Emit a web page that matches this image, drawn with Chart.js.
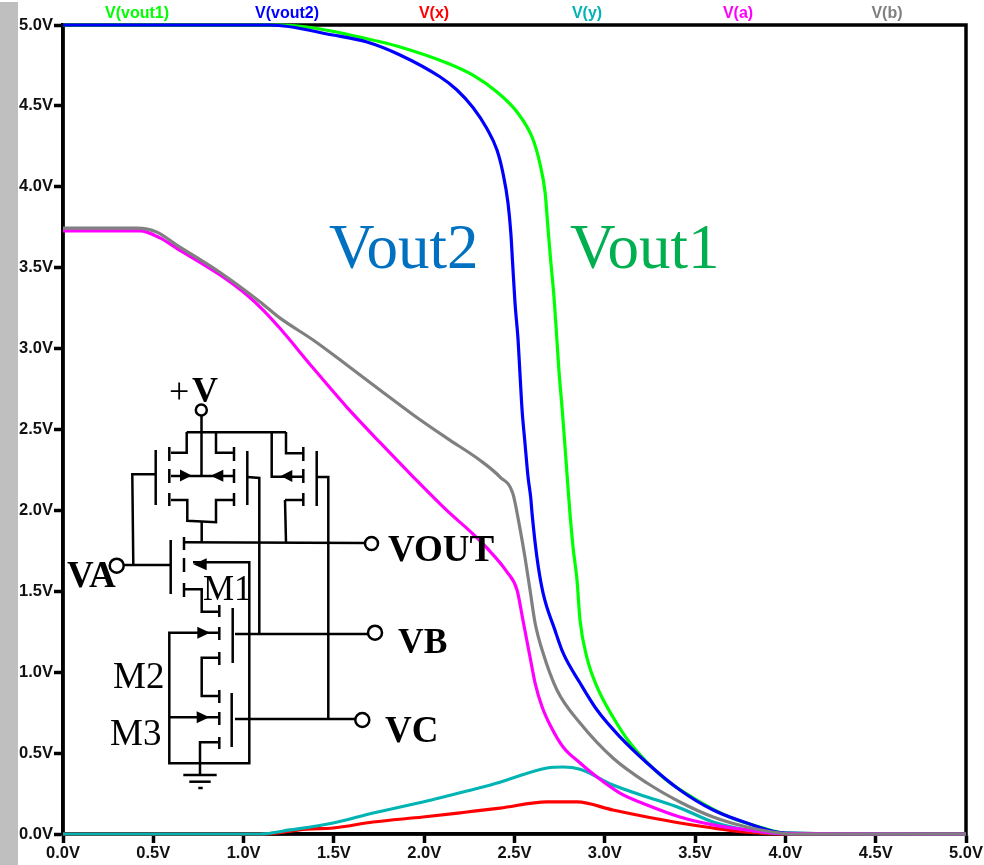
<!DOCTYPE html>
<html>
<head>
<meta charset="utf-8">
<title>DC sweep</title>
<script src="https://cdn.jsdelivr.net/npm/chart.js@4"></script>
<style>
  html, body { margin: 0; padding: 0; background: #fff; }
  canvas { display: block; }
</style>
</head>
<body>
<canvas id="sweepChart" width="984" height="865"></canvas>
<script>
// trace values, [sweep volts, node volts]
const vout1 = [[0,5],[1.2,5],[1.4,4.98],[1.59,4.938],[1.866,4.864],[2.126,4.765],[2.27,4.69],[2.403,4.586],[2.514,4.462],[2.60,4.30],[2.64,4.147],[2.67,3.96],[2.685,3.75],[2.70,3.55],[2.72,3.30],[2.735,3.05],[2.747,2.85],[2.763,2.64],[2.78,2.39],[2.796,2.145],[2.807,1.984],[2.824,1.774],[2.846,1.57],[2.863,1.32],[2.90,1.094],[2.957,0.909],[3.045,0.723],[3.14,0.562],[3.32,0.352],[3.51,0.21],[3.69,0.105],[3.876,0.037],[4.0,0.006],[5,0]];
const vout2 = [[0,5],[1.146,5],[1.495,4.938],[1.683,4.895],[1.866,4.815],[2.087,4.68],[2.18,4.60],[2.27,4.49],[2.347,4.36],[2.403,4.227],[2.436,4.085],[2.464,3.90],[2.48,3.71],[2.49,3.52],[2.503,3.28],[2.52,3.05],[2.53,2.85],[2.542,2.62],[2.558,2.416],[2.575,2.206],[2.59,2.077],[2.597,1.984],[2.624,1.712],[2.658,1.49],[2.724,1.26],[2.769,1.119],[2.863,0.933],[2.957,0.766],[3.084,0.60],[3.234,0.439],[3.416,0.272],[3.6,0.148],[3.787,0.068],[4.0,0.006],[5,0]];
const nodeX = [[0,0],[1.1,0],[1.35,0.03],[1.495,0.037],[1.717,0.074],[1.993,0.105],[2.237,0.136],[2.42,0.16],[2.68,0.198],[2.846,0.198],[3.045,0.148],[3.234,0.105],[3.416,0.068],[3.6,0.037],[3.787,0.012],[4.0,0],[5,0]];
const nodeY = [[0,0],[1.09,0],[1.257,0.025],[1.495,0.068],[1.717,0.13],[1.993,0.198],[2.237,0.266],[2.42,0.32],[2.49,0.346],[2.68,0.408],[2.769,0.414],[2.863,0.40],[3.045,0.303],[3.234,0.229],[3.416,0.161],[3.6,0.074],[3.787,0.025],[4.0,0.002],[5,0]];
const nodeA = [[0,3.727],[0.426,3.727],[0.537,3.684],[0.63,3.62],[0.87,3.455],[1.02,3.33],[1.107,3.24],[1.2,3.127],[1.385,2.88],[1.57,2.64],[1.755,2.42],[1.94,2.206],[2.125,2.0],[2.265,1.86],[2.347,1.768],[2.458,1.62],[2.514,1.508],[2.547,1.32],[2.586,1.094],[2.614,0.933],[2.653,0.785],[2.697,0.674],[2.769,0.538],[2.863,0.439],[2.957,0.352],[3.084,0.253],[3.234,0.179],[3.416,0.105],[3.6,0.056],[3.787,0.025],[4.0,0.002],[5,0]];
const nodeB = [[0,3.745],[0.41,3.745],[0.52,3.72],[0.63,3.64],[0.87,3.47],[1.09,3.29],[1.2,3.19],[1.385,3.053],[1.57,2.90],[1.755,2.744],[1.94,2.59],[2.125,2.447],[2.309,2.31],[2.42,2.206],[2.49,2.107],[2.525,1.92],[2.558,1.71],[2.586,1.508],[2.614,1.304],[2.653,1.137],[2.735,0.89],[2.863,0.686],[3.045,0.47],[3.234,0.315],[3.416,0.198],[3.6,0.105],[3.787,0.043],[3.97,0.006],[4.03,0],[5,0]];

const traceNames = ['V(vout1)', 'V(vout2)', 'V(x)', 'V(y)', 'V(a)', 'V(b)'];
const traceColors = ['#00ff00', '#0000ff', '#ff0000', '#00b4b4', '#ff00ff', '#808080'];
const traces = [vout1, vout2, nodeX, nodeY, nodeA, nodeB];
const traceLabelX = [137, 287, 434, 587, 738, 887];

const axisMax = 5;
const axisStep = 0.5;
const tickFont = { family: '"Liberation Sans"', size: 16.5, weight: 'bold' };

// schematic inset, page pixels
const wires = [
  [[201.5,414],[201.5,476]], [[186.7,432.3],[286,432.3]],
  [[186.7,432],[186.7,452.7],[171,452.7]], [[216,432],[216,452.7],[233,452.7]],
  [[171,476],[233,476]], [[155.7,474.3],[132.3,474.3],[133.3,565]],
  [[247.3,477],[259.3,478],[259.3,634]],
  [[171,500],[187.3,500],[187.3,520.7],[216,522.3],[216,500],[233,500]],
  [[201.7,522],[201.7,542.3]],
  [[286,432],[286,453.3],[303,453.3]], [[271.7,432],[271.7,476.7],[303,476.7]],
  [[316.7,477],[328.3,477],[328.3,719]], [[285,500],[303,500]], [[285,500],[286,542.3]],
  [[184,542.3],[365,543]], [[170.7,565],[123,565]],
  [[193,562.3],[249.3,562.3],[249.3,763.3],[169.3,763.3],[169.3,632.7],[218.3,632.7]],
  [[184,589.3],[201.7,589.3],[201.7,611.7],[218.3,611.7]],
  [[235,634],[368,634]], [[218.3,657.7],[201.7,657.7],[201.7,696],[218.3,696]],
  [[235,719],[355,719]], [[169.3,717.3],[218.3,717.3]],
  [[218.3,742.3],[200,742.3],[200,775]],
  [[183.3,775],[216.7,775]], [[189.3,781.7],[210.7,781.7]], [[198.3,788],[202.7,788]],
  // channel dashes and gate bars
  [[169.3,447],[169.3,461]], [[169.3,469],[169.3,483]], [[169.3,493],[169.3,506]], [[155.7,450],[155.7,505]],
  [[234,447],[234,461]], [[234,469],[234,483]], [[234,493],[234,506]], [[247.3,451],[247.3,505]],
  [[303.3,447],[303.3,461]], [[303.3,469],[303.3,483]], [[303.3,493],[303.3,506]], [[316.7,451],[316.7,506]],
  [[184,537],[184,550]], [[184,558],[184,572]], [[184,583],[184,597]], [[170.7,540],[170.7,594]],
  [[219.3,605],[219.3,617]], [[219.3,627],[219.3,640]], [[219.3,652],[219.3,665]], [[232.7,608],[232.7,663]],
  [[219.3,690],[219.3,703]], [[219.3,712],[219.3,725]], [[219.3,737],[219.3,749]], [[231.7,693],[231.7,747]]
];
const arrows = [[191.7,180,475.5], [210.7,223.3,475.7], [280.7,292.3,476], [193.3,206.7,564.3], [210,197.3,632.7], [209.3,196.7,717.3]];
const terminals = [[201.3,410,5.5], [371.5,543.5,6.5], [116.7,565.7,7], [375,632.7,7], [362.3,720,7]];
const serif = '"Liberation Serif"';
const insetLabels = [
  ['Vout2', 329, 268, '63px ' + serif, '#0070c0'],
  ['Vout1', 570, 268, '63px ' + serif, '#00b050'],
  ['+', 169, 403, '36px ' + serif, '#000'],
  ['V', 192, 402, 'bold 36px ' + serif, '#000'],
  ['VOUT', 388, 561, 'bold 37px ' + serif, '#000'],
  ['VA', 67, 587, 'bold 37px ' + serif, '#000'],
  ['M1', 203, 600, '35px ' + serif, '#000'],
  ['VB', 398, 653, 'bold 35.5px ' + serif, '#000'],
  ['M2', 113, 688, '37px ' + serif, '#000'],
  ['M3', 110, 745, '37px ' + serif, '#000'],
  ['VC', 385, 742, 'bold 37px ' + serif, '#000']
];

const plotExtras = {
  id: 'plotExtras',
  beforeDraw(chart) {
    const ctx = chart.ctx;
    ctx.save();
    ctx.fillStyle = '#bfbfbf';
    ctx.fillRect(0, 2, 18, 863);
    ctx.restore();
  },
  beforeDatasetsDraw(chart) {
    const ctx = chart.ctx;
    const area = chart.chartArea;
    ctx.save();
    ctx.strokeStyle = '#000';
    ctx.lineWidth = 3.5;
    ctx.strokeRect(area.left, area.top, area.right - area.left, area.bottom - area.top);
    ctx.restore();
  },
  afterDatasetsDraw(chart) {
    const ctx = chart.ctx;
    ctx.save();
    // trace names along the top
    ctx.font = 'bold 16px "Liberation Sans"';
    ctx.textAlign = 'center';
    ctx.textBaseline = 'alphabetic';
    traceNames.forEach((name, i) => {
      ctx.fillStyle = traceColors[i];
      ctx.fillText(name, traceLabelX[i], 18);
    });
    // schematic
    ctx.strokeStyle = '#000';
    ctx.lineWidth = 2.5;
    wires.forEach(w => {
      ctx.beginPath();
      w.forEach((p, i) => i ? ctx.lineTo(p[0], p[1]) : ctx.moveTo(p[0], p[1]));
      ctx.stroke();
    });
    ctx.fillStyle = '#000';
    arrows.forEach(a => {
      ctx.beginPath();
      ctx.moveTo(a[0], a[2]);
      ctx.lineTo(a[1], a[2] - 6);
      ctx.lineTo(a[1], a[2] + 6);
      ctx.closePath();
      ctx.fill();
    });
    terminals.forEach(t => {
      ctx.beginPath();
      ctx.arc(t[0], t[1], t[2], 0, Math.PI * 2);
      ctx.fillStyle = '#fff';
      ctx.fill();
      ctx.stroke();
    });
    ctx.textAlign = 'left';
    insetLabels.forEach(l => {
      ctx.font = l[3];
      ctx.fillStyle = l[4];
      ctx.fillText(l[0], l[1], l[2]);
    });
    ctx.restore();
  }
};

new Chart(document.getElementById('sweepChart').getContext('2d'), {
  type: 'scatter',
  data: {
    datasets: traces.map((trace, i) => ({
      label: traceNames[i],
      data: trace.map(p => ({ x: p[0], y: p[1] })),
      showLine: true,
      borderColor: traceColors[i],
      backgroundColor: traceColors[i],
      borderWidth: 3.2,
      pointRadius: 0,
      cubicInterpolationMode: 'monotone',
      clip: 4,
      order: traces.length - i
    }))
  },
  options: {
    responsive: false,
    animation: false,
    layout: { padding: { top: 25, right: 18, left: 0, bottom: 0 } },
    plugins: {
      legend: { display: false },
      tooltip: { enabled: false }
    },
    scales: {
      x: {
        type: 'linear',
        min: 0,
        max: axisMax,
        afterFit: function(scale) { scale.height = 31; },
        border: { color: '#000', width: 3.5 },
        grid: { drawOnChartArea: false, tickColor: '#000', tickWidth: 3.5, tickLength: 9 },
        ticks: {
          stepSize: axisStep,
          maxRotation: 0,
          autoSkip: false,
          padding: 1,
          color: '#111',
          font: tickFont,
          callback: function(value) { return value.toFixed(1) + 'V'; }
        }
      },
      y: {
        type: 'linear',
        min: 0,
        max: axisMax,
        afterFit: function(scale) { scale.width = 63; },
        border: { color: '#000', width: 3.5 },
        grid: { drawOnChartArea: false, tickColor: '#000', tickWidth: 3.5, tickLength: 9 },
        ticks: {
          stepSize: axisStep,
          autoSkip: false,
          padding: 1,
          color: '#111',
          font: tickFont,
          callback: function(value) { return value.toFixed(1) + 'V'; }
        }
      }
    }
  },
  plugins: [plotExtras]
});
</script>
</body>
</html>
